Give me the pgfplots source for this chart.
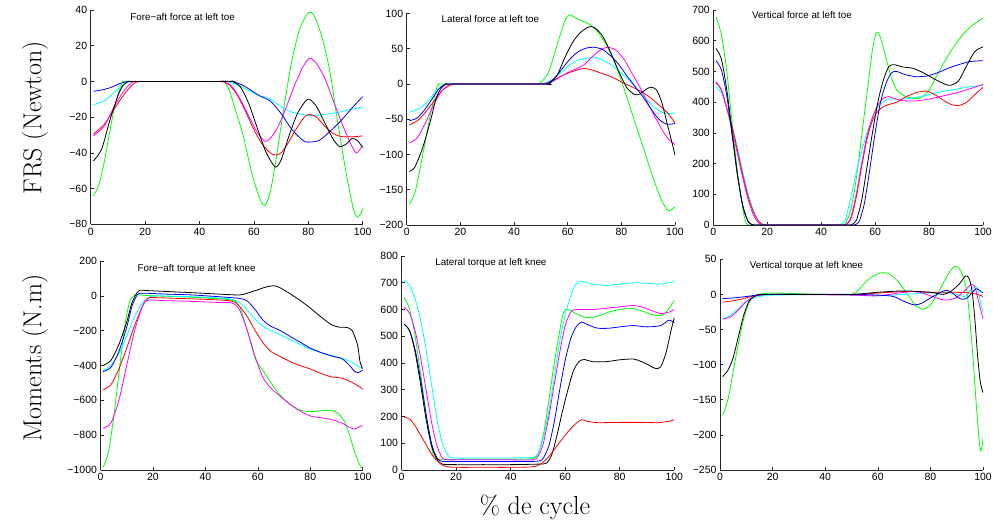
\documentclass[border=0pt]{standalone}
\usepackage{fontspec}
\usepackage{pgfplots}
\pgfplotsset{compat=1.18}
\newfontfamily\arial{Liberation Sans}
\newcommand\tickfont{\arial\fontsize{10.5}{12}\selectfont}
\newcommand\titfont{\arial\fontsize{9.8}{11}\selectfont}
\definecolor{mg}{rgb}{0,1,0}
\definecolor{mc}{rgb}{0,1,1}
\definecolor{mm}{rgb}{1,0,1}
\definecolor{mb}{rgb}{0,0,1}
\definecolor{mr}{rgb}{1,0,0}
\pgfplotsset{myax/.style={scale only axis, anchor=south west,
  axis x line=bottom, axis y line=left,
  axis line style={-, black!85, line width=0.7pt},
  tick align=inside, major tick length=3pt,
  tick style={black!85, line width=0.6pt},
  xmin=0, xmax=100, xtick={0,20,...,100},
  ticklabel style={font=\tickfont},
  /pgf/number format/assume math mode=true,
  every axis plot/.append style={line width=0.8pt, smooth, tension=0.45, mark=none}}}
\begin{document}
\begin{tikzpicture}[x=1pt,y=1pt]
\useasboundingbox (0,0) rectangle (993,527);
% Panel 1
\begin{axis}[myax, at={(90.7pt,302.7pt)}, width=272pt, height=214.3pt,
  ymin=-80, ymax=40, ytick={-80,-60,...,40}, yticklabels={−80,−60,−40,−20,0,20,40}]
\addplot[mg] coordinates {(1,-64)(3,-58)(5,-45)(7,-28)(9,-13)(11,-3)(12,0)(14,0)(47,0)(49,0)(51,-5)(53,-15)(56,-30)(59,-50)(62,-65)(64,-69.5)(66,-62)(68,-45)(71,-15)(74,12)(77,30)(80,38.5)(82,37)(85,25)(88,5)(91,-25)(94,-52)(96.5,-71)(98,-76)(99.3,-74)(100,-71)};
\addplot[mc] coordinates {(1,-13)(5,-11)(8,-7)(11,-3)(13,-1)(15,0)(17,0)(48,0)(50,0)(54,-2)(58,-5)(62,-8)(65,-9)(68,-12)(72,-16)(76,-18)(80,-19)(84,-18.8)(88,-18)(92,-17)(96,-15.5)(100,-14.5)};
\addplot[mr] coordinates {(1,-29.5)(5,-24)(8,-17)(11,-10)(14,-4)(16.5,-0.5)(18,0)(20,0)(46,0)(48,0)(51,-2)(54,-8)(57,-17)(60,-27)(63,-35)(66,-40)(68,-41.3)(70,-40)(72,-36)(75,-28)(78,-21)(80,-18.5)(83,-20)(86,-25)(89,-29)(92,-30.8)(96,-31)(100,-30.5)};
\addplot[mm] coordinates {(1,-30.5)(5,-25)(8,-16)(11,-8)(14,-2)(16,0)(18,0)(47,0)(49,0)(52,-3)(55,-10)(58,-19)(61,-28)(64,-33.5)(66,-32)(69,-25)(72,-14)(75,-2)(78,8)(80.5,13)(83,10)(86,2)(89,-10)(92,-22)(95,-33)(97.5,-40)(99,-38)(100,-36)};
\addplot[mb] coordinates {(1,-5.5)(5,-4.5)(8,-3)(11,-1)(14,0)(16,0)(50,0)(52,0)(55,-1.5)(58,-4)(62,-8)(66,-11)(70,-18)(74,-27)(78,-33)(80,-34)(84,-33)(88,-28)(92,-22)(96,-15)(100,-8.5)};
\addplot[black] coordinates {(1,-44.5)(4,-38)(7,-22)(10,-8)(12,-2)(14,0)(16,0)(50,0)(52,0)(55,-3)(58,-12)(61,-25)(64,-38)(66,-44)(68,-48)(70,-44)(73,-30)(76,-18)(79,-11)(80.5,-10)(83,-14)(86,-23)(89,-32)(91.5,-36.5)(94,-35)(96,-32)(98,-33)(100,-37)};
\node[anchor=west, font=\titfont] at (rel axis cs:0.133,0.967) {Fore−aft force at left toe};
\end{axis}
% Panel 2
\begin{axis}[myax, at={(406.7pt,302pt)}, width=268.3pt, height=211.5pt,
  ymin=-200, ymax=100, ytick={-200,-150,...,100}, yticklabels={−200,−150,−100,−50,0,50,100}]
\addplot[mg] coordinates {(1,-170)(3,-155)(5,-120)(7,-80)(9,-40)(11,-8)(12,0)(14,0)(46,0)(48,0)(50,2)(53,18)(56,55)(59,90)(60.5,98)(62,96)(65,90)(68,85)(71,75)(74,58)(77,35)(80,5)(83,-30)(86,-65)(89,-100)(92,-135)(95,-165)(97,-178)(98,-180)(100,-174)};
\addplot[mc] coordinates {(1,-40)(4,-36)(7,-28)(10,-15)(12,-6)(14,-1)(16,0)(18,0)(47,0)(49,0)(52,2)(55,8)(58,18)(61,28)(64,34)(68,37)(71,37)(74,32)(77,25)(80,15)(83,5)(86,-8)(89,-20)(92,-32)(95,-40)(98,-42)(100,-41)};
\addplot[mr] coordinates {(1,-58)(4,-52)(7,-40)(10,-25)(13,-10)(16,-2)(18,0)(20,0)(49,0)(51,0)(54,4)(58,12)(62,18)(66,22)(69,20)(72,16)(75,12)(78,7)(81,1)(85,-6)(88,-12)(91,-20)(94,-30)(97,-40)(100,-55)};
\addplot[mm] coordinates {(1,-84)(4,-76)(7,-55)(10,-30)(13,-10)(16,-1)(18,0)(20,0)(50,0)(52,0)(55,5)(58,12)(61,18)(64,23)(66,27)(69,38)(72,48)(75,52)(78,48)(81,35)(84,15)(87,-5)(90,-28)(93,-50)(96,-70)(98,-80)(100,-86)};
\addplot[mb] coordinates {(1,-52)(4,-48)(7,-35)(10,-18)(12,-7)(14,-1)(16,0)(18,0)(50,0)(52,0)(55,8)(58,22)(61,36)(64,46)(67,51)(70,52)(73,49)(76,40)(79,28)(82,12)(85,-3)(88,-18)(91,-35)(94,-50)(97,-57)(100,-56)};
\addplot[black] coordinates {(1,-124)(3,-118)(6,-90)(9,-50)(11,-20)(13,-5)(15,0)(17,0)(51,0)(53,0)(56,12)(59,38)(62,60)(65,74)(68,81)(70,80)(73,68)(76,45)(79,18)(82,-5)(85,-15)(87,-14)(89,-8)(91,-4.5)(93,-8)(95,-25)(97,-55)(99,-85)(100,-101)};
\node[anchor=west, font=\titfont] at (rel axis cs:0.117,0.973) {Lateral force at left toe};
\end{axis}
% Panel 3
\begin{axis}[myax, at={(713.3pt,302pt)}, width=269.7pt, height=215pt,
  ymin=0, ymax=700, ytick={0,100,...,700}]
\addplot[mg] coordinates {(1,677)(3,620)(5,500)(7,330)(9,170)(11,50)(12,10)(13,0)(15,0)(46,0)(48,0)(49,5)(51,50)(53,150)(55,290)(57,430)(59,570)(60.5,627)(62,610)(64,545)(66,480)(68,440)(71,420)(74,413)(77,414)(80,440)(84,505)(88,565)(92,615)(96,650)(100,673)};
\addplot[mc] coordinates {(1,450)(3,430)(5,380)(7,320)(9,250)(11,170)(13,100)(15,45)(17,10)(19,0)(21,0)(45,0)(47,0)(49,20)(51,90)(53,170)(55,240)(57,300)(59,350)(61,385)(63,400)(65,410)(70,410)(75,415)(80,425)(85,435)(90,442)(95,450)(100,455)};
\addplot[mr] coordinates {(1,465)(3,440)(5,380)(7,320)(9,240)(11,160)(13,90)(15,40)(17,10)(19,0)(21,0)(47,0)(49,0)(51,20)(53,90)(55,190)(57,280)(59,340)(61,370)(63,385)(65,392)(68,400)(72,420)(76,433)(79,436)(82,425)(85,408)(88,393)(91,389)(94,400)(97,425)(100,448)};
\addplot[mm] coordinates {(1,462)(3,440)(5,380)(7,310)(9,230)(11,150)(13,80)(15,30)(17,5)(18,0)(20,0)(47,0)(49,0)(51,25)(53,100)(55,200)(57,290)(59,350)(61,390)(63,412)(65,418)(67,412)(70,405)(75,404)(80,410)(85,420)(90,430)(95,443)(100,458)};
\addplot[mb] coordinates {(1,535)(3,505)(5,420)(7,290)(9,160)(11,60)(13,10)(15,0)(17,0)(50,0)(52,0)(54,10)(56,70)(58,180)(60,300)(62,400)(64,460)(66,495)(68,500)(71,490)(75,483)(79,485)(83,495)(87,510)(91,522)(95,532)(100,535)};
\addplot[black] coordinates {(1,575)(3,540)(5,440)(7,300)(9,160)(11,60)(13,10)(15,0)(17,0)(49,0)(51,0)(53,15)(55,80)(57,190)(59,300)(61,400)(63,470)(65,515)(67,522)(70,515)(74,510)(78,495)(82,475)(86,458)(88,455)(91,470)(94,520)(97,565)(100,580)};
\node[anchor=west, font=\titfont] at (rel axis cs:0.131,0.975) {Vertical force at left toe};
\end{axis}
% Panel 4
\begin{axis}[myax, at={(100.5pt,57pt)}, width=262.2pt, height=209pt,
  ymin=-1000, ymax=200, ytick={-1000,-800,...,200}, yticklabels={−1000,−800,−600,−400,−200,0,200}]
\addplot[mg] coordinates {(1,-985)(3,-900)(5,-700)(7,-450)(9,-200)(11,-40)(13,5)(15,5)(20,0)(30,-5)(40,-12)(50,-25)(53,-60)(56,-200)(59,-360)(62,-430)(65,-500)(68,-560)(72,-620)(76,-655)(80,-665)(84,-660)(88,-658)(91,-680)(93,-720)(95,-800)(97,-900)(99,-975)(100,-995)};
\addplot[mc] coordinates {(1,-430)(4,-400)(7,-330)(10,-230)(13,-120)(16,-40)(19,-5)(22,0)(30,-3)(40,-8)(50,-20)(54,-50)(57,-100)(60,-150)(63,-185)(66,-205)(70,-235)(75,-270)(80,-305)(85,-330)(90,-350)(95,-375)(100,-420)};
\addplot[mr] coordinates {(1,-540)(4,-510)(7,-420)(10,-300)(13,-170)(16,-60)(18,-15)(20,-10)(30,-15)(40,-20)(50,-30)(53,-60)(56,-120)(59,-200)(62,-270)(65,-320)(68,-345)(72,-375)(76,-400)(80,-420)(84,-445)(88,-465)(92,-472)(95,-490)(98,-515)(100,-535)};
\addplot[mm] coordinates {(1,-760)(4,-730)(7,-600)(10,-400)(13,-200)(16,-60)(18,-25)(25,-28)(35,-32)(45,-38)(50,-40)(53,-80)(56,-200)(59,-350)(62,-470)(65,-530)(68,-570)(72,-620)(76,-660)(80,-690)(84,-700)(88,-710)(92,-730)(95,-755)(97,-765)(99,-750)(100,-745)};
\addplot[mb] coordinates {(1,-435)(4,-410)(7,-320)(10,-180)(12,-60)(14,5)(16,15)(25,10)(35,5)(45,-5)(53,-15)(56,-30)(59,-80)(62,-140)(65,-175)(68,-195)(72,-230)(76,-265)(80,-300)(84,-325)(88,-345)(92,-360)(95,-400)(97,-435)(98.5,-440)(100,-425)};
\addplot[black] coordinates {(1,-400)(4,-370)(7,-280)(10,-150)(12,-40)(14,20)(15,32)(18,30)(25,25)(35,18)(45,10)(53,5)(56,15)(60,35)(63,50)(66,58)(68,50)(72,15)(76,-25)(80,-70)(84,-120)(88,-165)(91,-180)(94,-182)(96,-200)(98,-280)(99,-380)(100,-420)};
\node[anchor=west, font=\titfont] at (rel axis cs:0.128,0.962) {Fore−aft torque at left knee};
\end{axis}
% Panel 5
\begin{axis}[myax, at={(401.5pt,57pt)}, width=272.8pt, height=214pt,
  ymin=0, ymax=800, ytick={0,100,...,800}]
\addplot[mg] coordinates {(1,645)(3,600)(5,500)(7,360)(9,210)(11,90)(12,45)(14,38)(20,40)(30,40)(40,40)(48,42)(50,60)(52,130)(54,260)(56,400)(58,520)(59,575)(60,600)(62,595)(65,580)(68,570)(72,575)(76,590)(80,600)(84,605)(88,595)(92,580)(95,578)(97,590)(100,635)};
\addplot[mc] coordinates {(1,710)(3,690)(5,640)(7,560)(9,450)(11,320)(13,190)(15,100)(17,55)(19,45)(30,45)(40,45)(48,47)(50,60)(52,120)(54,220)(56,350)(58,480)(60,580)(62,650)(64,695)(66,705)(70,695)(75,690)(80,695)(85,700)(90,698)(95,695)(100,705)};
\addplot[mm] coordinates {(1,608)(3,585)(5,520)(7,420)(9,300)(11,180)(13,90)(15,45)(17,38)(20,38)(30,38)(40,38)(48,38)(50,50)(52,100)(54,200)(56,320)(58,440)(60,540)(62,590)(64,600)(70,600)(75,605)(80,610)(85,615)(88,610)(92,595)(95,585)(98,590)(100,600)};
\addplot[mb] coordinates {(1,545)(3,520)(5,450)(7,340)(9,210)(11,100)(13,45)(15,32)(20,32)(30,32)(40,32)(50,33)(52,45)(54,90)(56,180)(58,300)(60,410)(62,490)(64,535)(66,553)(69,540)(72,530)(76,530)(80,535)(85,540)(90,535)(95,540)(98,560)(100,550)};
\addplot[black] coordinates {(1,545)(3,520)(5,440)(7,320)(9,190)(11,90)(13,40)(15,22)(20,20)(30,20)(40,20)(50,22)(53,25)(55,55)(57,130)(59,220)(61,300)(63,370)(65,405)(67,413)(70,405)(75,405)(80,412)(85,415)(88,405)(91,390)(93,380)(95,385)(97,440)(99,530)(100,570)};
\addplot[mr] coordinates {(1,198)(3,190)(5,165)(7,130)(9,95)(11,60)(13,35)(15,18)(17,12)(20,10)(30,10)(40,10)(48,12)(51,22)(54,50)(57,90)(60,130)(63,165)(66,188)(68,182)(72,177)(80,178)(88,178)(94,177)(98,182)(100,188)};
\node[anchor=west, font=\titfont] at (rel axis cs:0.111,0.969) {Lateral torque at left knee};
\end{axis}
% Panel 6
\begin{axis}[myax, at={(720pt,57pt)}, width=263pt, height=210.7pt,
  ymin=-250, ymax=50, ytick={-250,-200,...,50}, yticklabels={−250,−200,−150,−100,−50,0,50}]
\addplot[mg] coordinates {(1,-172)(3,-150)(5,-110)(7,-70)(9,-35)(11,-12)(13,-2)(16,1)(22,2)(30,1)(40,0)(50,0)(53,8)(56,20)(59,28)(62,31)(65,28)(68,17)(71,2)(74,-14)(77,-21)(80,-15)(83,3)(86,24)(88.5,38)(90,40)(92,30)(94,0)(96,-80)(97.5,-160)(99,-222)(100,-205)};
\addplot[mc] coordinates {(1,-35)(4,-30)(7,-20)(10,-10)(13,-5)(16,-2)(20,-1)(40,0)(50,-1)(60,-2)(70,0)(80,2)(86,3)(90,0)(93,-3)(95,5)(97,12)(98,8)(99,-10)(100,-25)};
\addplot[mr] coordinates {(1,-11)(5,-9)(10,-5)(14,-1)(20,0)(50,0)(60,2)(70,4)(80,3)(90,3)(95,2)(98,0)(100,-3)};
\addplot[mm] coordinates {(1,-35)(4,-32)(7,-22)(10,-10)(13,-3)(16,-1)(20,0)(50,-1)(60,-2)(70,3)(75,4)(80,-2)(84,-7)(87,-8)(90,-4)(93,5)(95,13)(96,14)(97,10)(98,-5)(100,-35)};
\addplot[mb] coordinates {(1,-6)(5,-5)(10,-3)(14,-1)(20,0)(50,0)(60,-1)(66,-3)(70,-10)(74,-15)(77,-12)(80,-5)(84,3)(86,6)(88,3)(90,-3)(92,-7)(94,-5)(96,3)(97.5,8)(99,5)(100,2)};
\addplot[black] coordinates {(1,-117)(3,-108)(5,-90)(7,-60)(9,-30)(11,-10)(13,-3)(16,0)(30,0)(50,0)(60,3)(70,5)(80,3)(85,0)(88,5)(91,15)(93,25)(94,26)(95,20)(96,0)(97,-40)(98,-90)(99,-125)(100,-140)};
\node[anchor=west, font=\titfont] at (rel axis cs:0.100,0.970) {Vertical torque at left knee};
\end{axis}
\node[rotate=90, font=\fontsize{26}{30}\selectfont] at (35,409) {FRS (Newton)};
\node[rotate=90, font=\fontsize{26}{30}\selectfont] at (35,169) {Moments (N.m)};
\node[font=\fontsize{26}{30}\selectfont] at (535,20) {\% de cycle};
\end{tikzpicture}
\end{document}
